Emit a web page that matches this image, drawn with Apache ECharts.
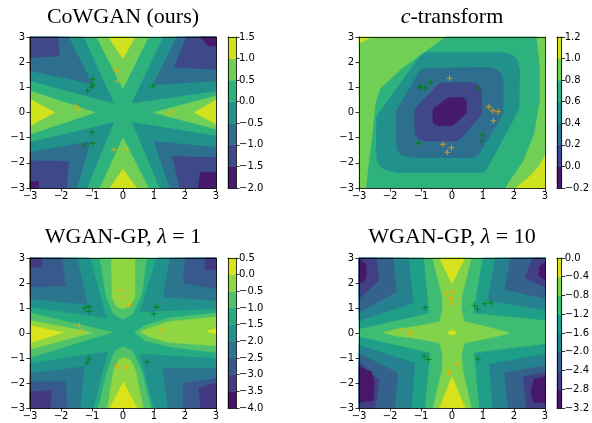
<!DOCTYPE html>
<html><head><meta charset="utf-8">
<script src="https://cdn.jsdelivr.net/npm/echarts@6/dist/echarts.min.js"></script>
<style>html,body{margin:0;padding:0;background:#fff}#c{width:592px;height:423px}</style>
</head><body><div id="c"></div>
<script>
// ---------------- data ----------------
const axisTicks = [-3, -2, -1, 0, 1, 2, 3];
const titles = ['CoWGAN (ours)', '{i|c}-transform', 'WGAN-GP, {i|\u03bb} = 1', 'WGAN-GP, {i|\u03bb} = 10'];

const p1Levels = [-2, -1.5, -1, -0.5, 0, 0.5, 1, 1.5];
const p2Levels = [-0.2, 0, 0.2, 0.4, 0.6, 0.8, 1.0, 1.2];
const p3Levels = [-4, -3.5, -3, -2.5, -2, -1.5, -1, -0.5, 0, 0.5];
const p4Levels = [-3.2, -2.8, -2.4, -2.0, -1.6, -1.2, -0.8, -0.4, 0];

const FULL = [[-3,-3],[3,-3],[3,3],[-3,3]];

// contour regions: [band index, polygon in data units], drawn in order
const p1Regions = [
  [4, FULL],
  [3, [[-3,3],[-1.28,3],[-0.3,0.38],[-3,1.26]]],
  [3, [[3,3],[1.3,3],[0.3,0.38],[3,0.86]]],
  [3, [[-3,-3],[-1.17,-3],[-0.3,-0.4],[-3,-1.19]]],
  [3, [[3,-3],[1.19,-3],[0.3,-0.4],[3,-0.93]]],
  [2, [[-3,3],[-1.76,3],[-1.0,1.15],[-3,1.66]]],
  [2, [[3,3],[1.73,3],[0.98,1.1],[3,1.26]]],
  [2, [[-3,-3],[-1.49,-3],[-1.05,-1.15],[-3,-1.59]]],
  [2, [[3,-3],[1.52,-3],[1.0,-1.15],[3,-1.39]]],
  [1, [[-3,3],[-2.09,3],[-2.05,2.25],[-3,2.19]]],
  [1, [[3,3],[2.05,3],[1.66,1.8],[3,1.72]]],
  [1, [[-3,-3],[-1.82,-3],[-1.75,-1.95],[-3,-1.92]]],
  [1, [[3,-3],[1.84,-3],[1.6,-1.75],[3,-1.79]]],
  [0, [[3,3],[2.48,3],[2.75,2.65],[3,2.65]]],
  [0, [[-3,-3],[-2.73,-3],[-2.73,-2.75],[-3,-2.75]]],
  [0, [[3,-3],[2.43,-3],[2.5,-2.38],[3,-2.38]]],
  [5, [[-0.85,3],[0.82,3],[0,0.95]]],
  [5, [[-0.74,-3],[0.82,-3],[0,-1.0]]],
  [5, [[-3,0.86],[-0.9,0],[-3,-0.86]]],
  [5, [[3,0.66],[0.98,0],[3,-0.66]]],
  [6, [[-0.47,3],[0.39,3],[0,2.15]]],
  [6, [[-0.42,-3],[0.44,-3],[0,-2.25]]],
  [6, [[-3,0.53],[-2.2,0],[-3,-0.53]]],
  [6, [[3,0.5],[2.3,0],[3,-0.46]]]
];

const p2Regions = [
  [5, FULL],
  [6, [[-3,3],[-2.6,3],[-3,2.75]]],
  [6, [[2.05,-3],[2.45,-2.6],[2.8,-2.15],[3,-1.72],[3,-3]]],
  [4, [[-0.2,3],[-1.6,1.75],[-2.3,0.95],[-2.45,0.4],[-2.55,-0.8],[-2.68,-2.1],[-2.76,-3],[1.7,-3],[2.3,-1.9],[2.65,-0.8],[2.82,0.5],[2.82,1.8],[2.72,3]]],
  [3, [[-2.43,-0.2],[-2.35,-0.02],[-1.0,2.28],[-0.85,2.38],[1.65,2.38],[1.95,2.28],[2.12,2.05],[2.18,1.7],[2.16,0.15],[2.08,-0.05],[1.1,-2.28],[0.95,-2.38],[-1.8,-2.38],[-2.2,-2.25],[-2.4,-2.0],[-2.44,-1.6]]],
  [2, [[-1.8,0.05],[-1.72,0.22],[-1.05,1.62],[-0.9,1.76],[1.15,1.79],[1.45,1.7],[1.6,1.5],[1.65,1.2],[1.65,-0.05],[1.57,-0.22],[0.85,-1.68],[0.7,-1.79],[-1.3,-1.79],[-1.6,-1.7],[-1.75,-1.5],[-1.8,-1.2]]],
  [1, [[-1.2,0.1],[-1.12,0.25],[-0.45,1.1],[-0.3,1.18],[0.6,1.19],[0.82,1.12],[0.92,0.98],[0.95,0.75],[0.95,-0.05],[0.88,-0.2],[0.25,-1.05],[0.1,-1.13],[-0.85,-1.13],[-1.08,-1.05],[-1.18,-0.9],[-1.2,-0.6]]],
  [0, [[-0.61,0.1],[-0.55,0.2],[-0.2,0.52],[-0.1,0.58],[0.25,0.6],[0.38,0.57],[0.45,0.48],[0.47,0.35],[0.46,0.0],[0.4,-0.1],[0.08,-0.46],[-0.02,-0.52],[-0.4,-0.53],[-0.53,-0.49],[-0.6,-0.4],[-0.62,-0.25]]]
];

const p3Regions = [
  [5, FULL],
  [4, [[-3,3],[-1.06,3],[-0.55,0.62],[-3,1.04]]],
  [4, [[3,3],[1.09,3],[0.55,0.85],[3,0.97]]],
  [4, [[-3,-3],[-0.96,-3],[-0.5,-0.75],[-3,-1.22]]],
  [4, [[3,-3],[1.0,-3],[0.55,-0.85],[3,-1.02]]],
  [3, [[-3,3],[-1.49,3],[-1.15,1.15],[-3,1.37]]],
  [3, [[3,3],[1.52,3],[1.3,1.45],[3,1.3]]],
  [3, [[-3,-3],[-1.39,-3],[-1.25,-1.35],[-3,-1.62]]],
  [3, [[3,-3],[1.45,-3],[1.3,-1.4],[3,-1.42]]],
  [2, [[-3,3],[-1.98,3],[-1.85,1.9],[-3,1.83]]],
  [2, [[3,3],[2.0,3],[1.95,2.0],[3,1.77]]],
  [2, [[-3,-3],[-1.82,-3],[-1.85,-1.95],[-3,-1.95]]],
  [2, [[3,-3],[1.95,-3],[1.95,-2.0],[3,-1.82]]],
  [1, [[-3,3],[-2.62,3],[-2.62,2.65],[-3,2.63]]],
  [1, [[3,3],[2.65,3],[2.65,2.55],[3,2.55]]],
  [1, [[-3,-3],[-2.35,-3],[-2.3,-2.3],[-3,-2.35]]],
  [1, [[3,-3],[2.5,-3],[2.45,-2.2],[3,-2.0]]],
  [6, [[-0.74,3],[-0.55,1.5],[-0.3,0.75],[0,0.55],[0.3,0.75],[0.6,1.5],[0.76,3]]],
  [6, [[-0.8,-3],[-0.5,-1.5],[-0.25,-0.7],[0,-0.55],[0.3,-0.7],[0.6,-1.5],[0.9,-3]]],
  [6, [[-3,0.8],[-0.35,0.03],[-3,-0.98]]],
  [6, [[3,0.8],[1.5,0.6],[0.7,0.3],[0.38,0.03],[0.7,-0.3],[1.5,-0.55],[3,-0.78]]],
  [7, [[-0.37,3],[-0.35,1.4],[-0.2,1.05],[0,0.97],[0.2,1.05],[0.38,1.4],[0.39,3]]],
  [7, [[-0.5,-3],[-0.3,-1.5],[-0.12,-1.05],[0.05,-0.98],[0.25,-1.1],[0.4,-1.5],[0.65,-3]]],
  [7, [[-3,0.5],[-1.0,0.02],[-3,-0.65]]],
  [7, [[3,0.64],[1.5,0.45],[0.9,0.22],[0.55,0.04],[0.9,-0.18],[1.5,-0.38],[3,-0.5]]],
  [8, [[-3,0.3],[-1.94,0.02],[-3,-0.4]]],
  [8, [[3,0.17],[2.7,0.07],[3,-0.03]]],
  [8, [[-0.42,-3],[0.01,-1.95],[0.45,-3]]]
];

const p4Regions = [
  [5, FULL],
  [4, [[-3,3],[-0.92,3],[-0.75,0.8],[-3,0.17]]],
  [4, [[3,3],[1.0,3],[0.7,0.8],[3,0.52]]],
  [4, [[-3,-3],[-0.88,-3],[-0.72,-0.8],[-3,-0.16]]],
  [4, [[3,-3],[0.89,-3],[0.72,-0.8],[3,-0.45]]],
  [3, [[-3,3],[-1.4,3],[-1.25,1.2],[-3,0.5]]],
  [3, [[3,3],[1.4,3],[1.15,1.3],[3,0.92]]],
  [3, [[-3,-3],[-1.31,-3],[-1.2,-1.2],[-3,-0.49]]],
  [3, [[3,-3],[1.32,-3],[1.2,-1.25],[3,-0.85]]],
  [2, [[-3,3],[-1.9,3],[-1.8,1.65],[-3,0.84]]],
  [2, [[3,3],[1.9,3],[1.7,1.75],[3,1.38]]],
  [2, [[-3,-3],[-1.85,-3],[-1.75,-1.6],[-3,-0.82]]],
  [2, [[3,-3],[1.81,-3],[1.7,-1.6],[3,-1.3]]],
  [1, [[-3,3],[-2.45,3],[-2.35,2.1],[-3,1.37]]],
  [1, [[3,3],[2.6,3],[2.35,2.2],[3,1.85]]],
  [1, [[-3,-3],[-2.49,-3],[-2.35,-1.9],[-3,-1.16]]],
  [1, [[3,-3],[2.4,-3],[2.3,-1.75],[3,-1.6]]],
  [0, [[-3,2.96],[-2.78,2.75],[-2.75,2.3],[-2.85,2.05],[-3,2.0]]],
  [0, [[3,2.85],[2.82,2.65],[2.8,2.3],[3,2.12]]],
  [0, [[-3,-1.35],[-2.6,-1.55],[-2.5,-2.0],[-2.55,-2.7],[-3,-2.78]]],
  [0, [[3,-1.75],[2.65,-1.85],[2.55,-2.3],[2.62,-2.75],[3,-2.8]]],
  [6, [[-0.62,3],[-0.32,1.5],[-0.3,0.9],[-0.4,0.45],[-1.0,0.3],[-1.8,0.15],[-2.23,0.02],[-1.8,-0.12],[-1.0,-0.25],[-0.4,-0.4],[-0.3,-0.9],[-0.32,-1.5],[-0.61,-3],[0.62,-3],[0.35,-1.5],[0.3,-0.9],[0.4,-0.4],[1.0,-0.25],[1.5,-0.12],[1.86,0.0],[1.5,0.13],[1.0,0.28],[0.4,0.45],[0.3,0.9],[0.32,1.5],[0.62,3]]],
  [7, [[-0.4,3],[0.41,3],[0,1.97]]],
  [7, [[-0.4,-3],[0.42,-3],[0,-1.75]]],
  [7, [[-0.14,0.02],[-0.05,0.09],[0.08,0.09],[0.15,0.02],[0.06,-0.07],[-0.07,-0.07]]]
];

// sample points: orange (real) and green (generated)
const p1Orange = [[-0.2,1.66],[-0.18,1.25],[-1.52,0.26],[-1.41,0.13],[1.49,-0.07],[1.57,0.03],[-0.29,-1.48],[0.14,-1.48]];
const p1Green  = [[-0.98,1.32],[-0.98,1.1],[-1.01,1.02],[-1.14,0.86],[0.96,1.05],[-1.01,-0.79],[-1.25,-1.3],[-0.98,-1.23]];
const p2Orange = [[-0.08,1.36],[1.19,0.23],[1.32,0.07],[1.49,0.03],[1.34,-0.33],[-0.29,-1.26],[-0.02,-1.4],[-0.15,-1.58]];
const p2Green  = [[-1.04,1.05],[-1.04,0.98],[-0.88,0.97],[-0.7,1.2],[0.84,0.97],[0.99,-0.89],[0.95,-1.14],[-1.09,-1.22]];
const p3Orange = [[-0.06,1.7],[-0.04,1.39],[0.17,1.14],[-1.41,0.31],[-1.35,0.08],[1.25,0.13],[-0.2,-1.33],[0.1,-1.37]];
const p3Green  = [[-1.23,1.0],[-1.09,1.06],[-1.09,0.86],[1.08,1.04],[0.99,0.77],[-1.09,-1.04],[-1.16,-1.2],[0.78,-1.16]];
const p4Orange = [[-0.16,1.59],[0,1.66],[-0.05,1.37],[-0.01,1.16],[-1.63,0.15],[-1.34,0.01],[0.17,-1.24],[-0.11,-1.58]];
const p4Green  = [[-0.86,1.02],[0.72,1.1],[0.82,0.96],[1.06,1.17],[1.26,1.21],[-0.9,-0.93],[-0.76,-1.06],[0.84,-1.04]];

// ---------------- styling / layout ----------------
const VIR = ['#440154','#471365','#482475','#463480','#414487','#3b528b','#355f8d','#2f6c8e','#2a788e','#25848e','#21918c','#1e9c89','#22a884','#2fb47c','#44bf70','#5ec962','#7ad151','#9bd93c','#bddf26','#dfe318','#fde725'];
function hx(h){return [parseInt(h.substr(1,2),16),parseInt(h.substr(3,2),16),parseInt(h.substr(5,2),16)];}
function viridis(t){
  const f = Math.max(0,Math.min(1,t))*20, i = Math.min(19,Math.floor(f)), u = f-i;
  const a = hx(VIR[i]), b = hx(VIR[i+1]);
  return 'rgb(' + a.map((v,k)=>Math.round(v+(b[k]-v)*u)).join(',') + ')';
}
function bandColors(levels){ const n = levels.length-1; const c=[]; for(let k=0;k<n;k++) c.push(viridis((k+0.5)/n)); return c; }

const layout = [
  {l:30, t:37, w:186, h:151, cb:228, tx:123, ty:17},
  {l:359, t:37, w:186, h:151, cb:557, tx:452, ty:17},
  {l:30, t:258, w:186, h:150, cb:228, tx:123, ty:237},
  {l:359, t:258, w:186, h:150, cb:557, tx:452, ty:237}
];
const panels = [
  {levels:p1Levels, regions:p1Regions, orange:p1Orange, green:p1Green},
  {levels:p2Levels, regions:p2Regions, orange:p2Orange, green:p2Green},
  {levels:p3Levels, regions:p3Regions, orange:p3Orange, green:p3Green},
  {levels:p4Levels, regions:p4Regions, orange:p4Orange, green:p4Green}
];

const MINUS = '\u2212';
const fmtTick = v => String(v).replace('-', MINUS);
const fmtCb = v => { if (Math.abs(v) < 1e-9) v = 0; return v.toFixed(1).replace('-', MINUS); };
const lineSt = {show:true, onZero:false, lineStyle:{color:'#000', width:0.8}};
const tickSt = {show:true, length:3.5, lineStyle:{color:'#000', width:0.8}};
const labSt = {fontFamily:'DejaVu Sans', fontSize:10, color:'#000'};
const PLUS = 'path://M-1,-0.17L1,-0.17L1,0.17L-1,0.17Z M-0.17,-1L0.17,-1L0.17,1L-0.17,1Z';

const grids = [], xAxes = [], yAxes = [], series = [], graphics = [];

panels.forEach((p, i) => {
  const L = layout[i];
  const colors = bandColors(p.levels);
  const g = grids.length;
  grids.push({left:L.l, top:L.t, width:L.w, height:L.h, containLabel:false});
  const xb = xAxes.length;
  xAxes.push({gridIndex:g, type:'value', min:axisTicks[0], max:axisTicks[axisTicks.length-1], interval:1, position:'bottom', z:10,
    axisLine:lineSt, axisTick:tickSt, splitLine:{show:false},
    axisLabel:Object.assign({margin:3, formatter:fmtTick, showMinLabel:true, showMaxLabel:true}, labSt)});
  xAxes.push({gridIndex:g, type:'value', min:-3, max:3, position:'top', z:10, axisLine:lineSt, axisTick:{show:false}, axisLabel:{show:false}, splitLine:{show:false}});
  const yl = yAxes.length;
  yAxes.push({gridIndex:g, type:'value', min:axisTicks[0], max:axisTicks[axisTicks.length-1], interval:1, position:'left', z:10,
    axisLine:lineSt, axisTick:tickSt, splitLine:{show:false},
    axisLabel:Object.assign({margin:5, formatter:fmtTick, showMinLabel:true, showMaxLabel:true}, labSt)});
  yAxes.push({gridIndex:g, type:'value', min:-3, max:3, position:'right', z:10, axisLine:lineSt, axisTick:{show:false}, axisLabel:{show:false}, splitLine:{show:false}});

  series.push({type:'custom', xAxisIndex:xb, yAxisIndex:yl, silent:true, animation:false, z:1,
    data: p.regions.map(r => r[1][0]),
    renderItem: (params, api) => {
      const r = p.regions[params.dataIndex];
      const pts = r[1].map(q => api.coord(q));
      return {type:'polygon', shape:{points:pts}, style:{fill:colors[r[0]], stroke:colors[r[0]], lineWidth:0.6}};
    }});
  series.push({type:'scatter', xAxisIndex:xb, yAxisIndex:yl, data:p.orange, symbol:PLUS, symbolSize:6, itemStyle:{color:'#ffa500'}, silent:true, z:3});
  series.push({type:'scatter', xAxisIndex:xb, yAxisIndex:yl, data:p.green, symbol:PLUS, symbolSize:6, itemStyle:{color:'#008000'}, silent:true, z:3});

  const lv = p.levels, n = lv.length-1;
  const cg = grids.length;
  grids.push({left:L.cb, top:L.t, width:8, height:L.h, containLabel:false});
  const cx = xAxes.length;
  xAxes.push({gridIndex:cg, type:'value', min:0, max:1, position:'bottom', z:10, axisLine:lineSt, axisTick:{show:false}, axisLabel:{show:false}, splitLine:{show:false}});
  xAxes.push({gridIndex:cg, type:'value', min:0, max:1, position:'top', z:10, axisLine:lineSt, axisTick:{show:false}, axisLabel:{show:false}, splitLine:{show:false}});
  const cy = yAxes.length;
  yAxes.push({gridIndex:cg, type:'value', min:lv[0], max:lv[n], interval:lv[1]-lv[0], position:'right', z:10,
    axisLine:lineSt, axisTick:tickSt, splitLine:{show:false},
    axisLabel:Object.assign({margin:3, formatter:fmtCb, showMinLabel:true, showMaxLabel:true}, labSt)});
  yAxes.push({gridIndex:cg, type:'value', min:lv[0], max:lv[n], position:'left', z:10, axisLine:lineSt, axisTick:{show:false}, axisLabel:{show:false}, splitLine:{show:false}});
  series.push({type:'custom', xAxisIndex:cx, yAxisIndex:cy, silent:true, animation:false, z:1,
    data: lv.slice(0, n).map((lo, k) => [0, lo, 1, lv[k+1]]),
    renderItem: (params, api) => {
      const a = api.coord([api.value(0), api.value(3)]);
      const b = api.coord([api.value(2), api.value(1)]);
      const c = colors[params.dataIndex];
      return {type:'rect', shape:{x:a[0], y:a[1], width:b[0]-a[0], height:b[1]-a[1]}, style:{fill:c, stroke:c, lineWidth:0.5}};
    }});

  graphics.push({type:'text', x:L.tx, y:L.ty, z:20, style:{
    text:titles[i], fontFamily:'Liberation Serif', fontSize:22, fill:'#000',
    textAlign:'center', align:'center', textVerticalAlign:'middle', verticalAlign:'middle',
    rich:{i:{fontFamily:'Liberation Serif', fontSize:22, fontStyle:'italic', fill:'#000'}}
  }});
});

const chart = echarts.init(document.getElementById('c'), null, {renderer:'canvas'});
chart.setOption({animation:false, backgroundColor:'#fff', grid:grids, xAxis:xAxes, yAxis:yAxes, series:series, graphic:graphics});
</script></body></html>
